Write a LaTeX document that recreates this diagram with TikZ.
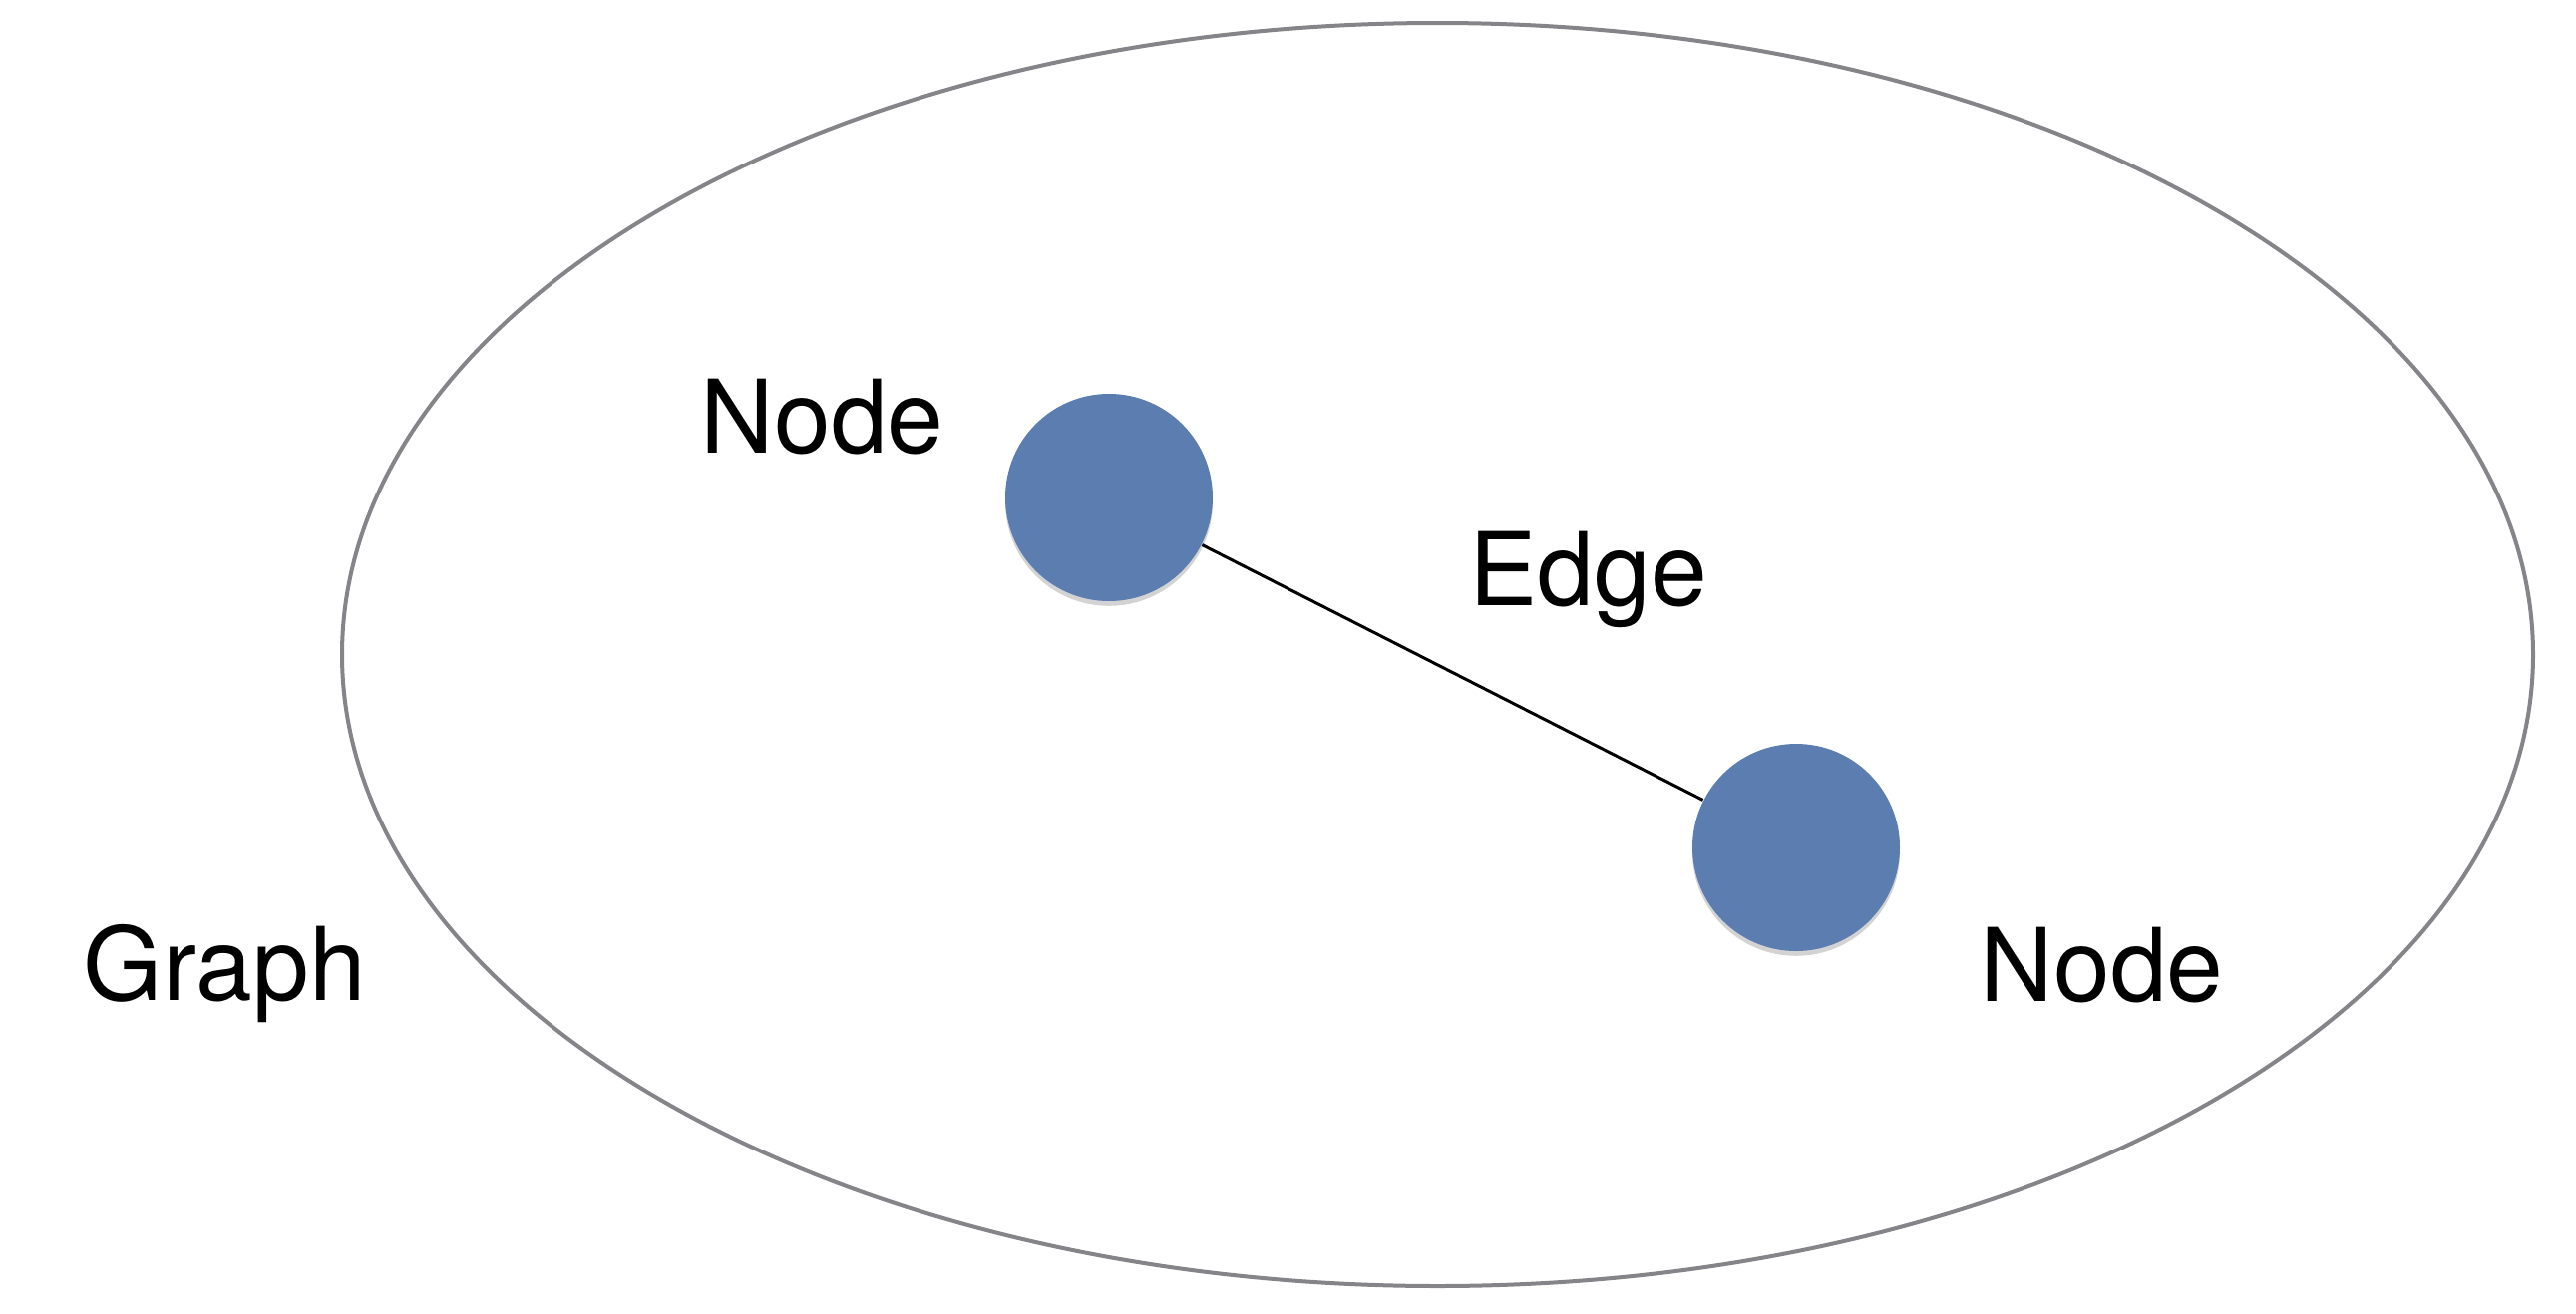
\documentclass[tikz,border=0pt]{standalone}
\usepackage{fontspec}
\setmainfont{TeX Gyre Heros}
\usetikzlibrary{shadows}

\definecolor{vertexblue}{RGB}{92,125,176}
\definecolor{outline}{RGB}{132,132,137}
\tikzset{
	vertex/.style={circle, fill=vertexblue, minimum size=52pt, inner sep=0pt,
		drop shadow={opacity=0.35, shadow xshift=0pt, shadow yshift=-1.2pt}},
	lbl/.style={anchor=base west, inner sep=0pt, font=\fontsize{25.5}{30}\selectfont}
}

\begin{document}
\begin{tikzpicture}[x=0.25pt, y=-0.25pt]
		\useasboundingbox (0,0) rectangle (2583,1318);
		% the graph
		\draw[outline, line width=1pt] (1441.5,656.5) ellipse (1098.5 and 633.5);
		\node[lbl] (graphlbl) at (83,1003) {Graph};
		% two vertices and the edge
		\node[vertex] (v1) at (1112,499) {};
		\node[vertex] (v2) at (1801,850) {};
		\draw[line width=0.75pt] (v1) -- (v2);
		\foreach \name/\x/\y/\txt in {n1lbl/702/454/Node, n2lbl/1985/1004/Node, elbl/1473/607/Edge} {
			\node[lbl] (\name) at (\x,\y) {\txt};
		}
	\end{tikzpicture}
\end{document}
